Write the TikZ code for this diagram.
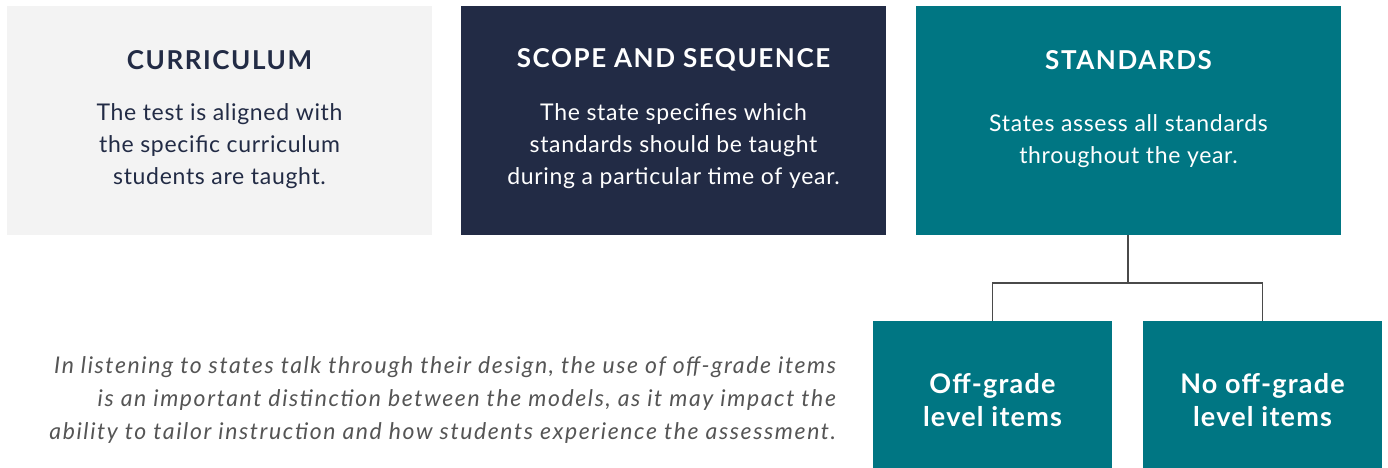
\documentclass[tikz,border=0pt]{standalone}
\usepackage{fontspec}
\setmainfont{Lato}
\definecolor{lightbg}{HTML}{F3F3F3}
\definecolor{navy}{HTML}{222B45}
\definecolor{teal}{HTML}{007683}
\definecolor{capgray}{HTML}{555555}
\definecolor{linegray}{HTML}{4A4A4A}
\tikzset{
  box/.style={rectangle, inner sep=0pt, minimum width=425pt, minimum height=229pt},
  smallbox/.style={rectangle, inner sep=0pt, fill=teal, minimum width=239pt, minimum height=147pt},
  title/.style={font=\fontsize{26}{28}\selectfont\bfseries\addfontfeature{LetterSpace=6}, inner sep=0pt},
  body/.style={font=\fontsize{23}{32}\selectfont\addfontfeature{LetterSpace=3}, align=center, inner sep=0pt},
  leaf/.style={font=\fontsize{27}{33}\selectfont\bfseries\addfontfeature{LetterSpace=4.5}, align=center, inner sep=0pt, text=white},
  caption/.style={font=\fontsize{23}{33}\selectfont\itshape\addfontfeature{LetterSpace=7}, align=right, inner sep=0pt, text=capgray},
  conn/.style={draw=linegray, line width=1.6pt}
}
\begin{document}
\begin{tikzpicture}[x=1pt,y=-1pt]
\useasboundingbox (0,0) rectangle (1388,468);
\node[box, fill=lightbg] (b1) at (219.5,120.5) {};
\node[box, fill=navy] (b2) at (673.5,120.5) {};
\node[box, fill=teal] (b3) at (1128.5,120.5) {};
\node[title, text=navy] (t1) at (219.5,60) {CURRICULUM};
\node[title, text=white] (t2) at (673.5,60) {SCOPE AND SEQUENCE};
\node[title, text=white] (t3) at (1128.5,60) {STANDARDS};
\node[body, text=navy] (d1) at (219.5,146) {The test is aligned with\\the specific curriculum\\students are taught.};
\node[body, text=white] (d2) at (673.5,146) {The state specifies which\\standards should be taught\\during a particular time of year.};
\node[body, text=white] (d3) at (1128.5,141) {States assess all standards\\throughout the year.};
\node[smallbox] (l1) at (992.5,394.5) {};
\node[smallbox] (l2) at (1262.5,394.5) {};
\node[leaf] (lt1) at (992.5,400) {Off-grade\\level items};
\node[leaf] (lt2) at (1262.5,400) {No off-grade\\level items};
\coordinate (mid) at (1128,283);
\draw[conn] (b3.south -| mid) -- (mid);
\draw[conn] (l1.north) |- (mid) -| (l2.north);
\node[caption, anchor=east] (cap) at (836,400) {In listening to states talk through their design, the use of off-grade items\\is an important distinction between the models, as it may impact the\\ability to tailor instruction and how students experience the assessment.};
\end{tikzpicture}
\end{document}
